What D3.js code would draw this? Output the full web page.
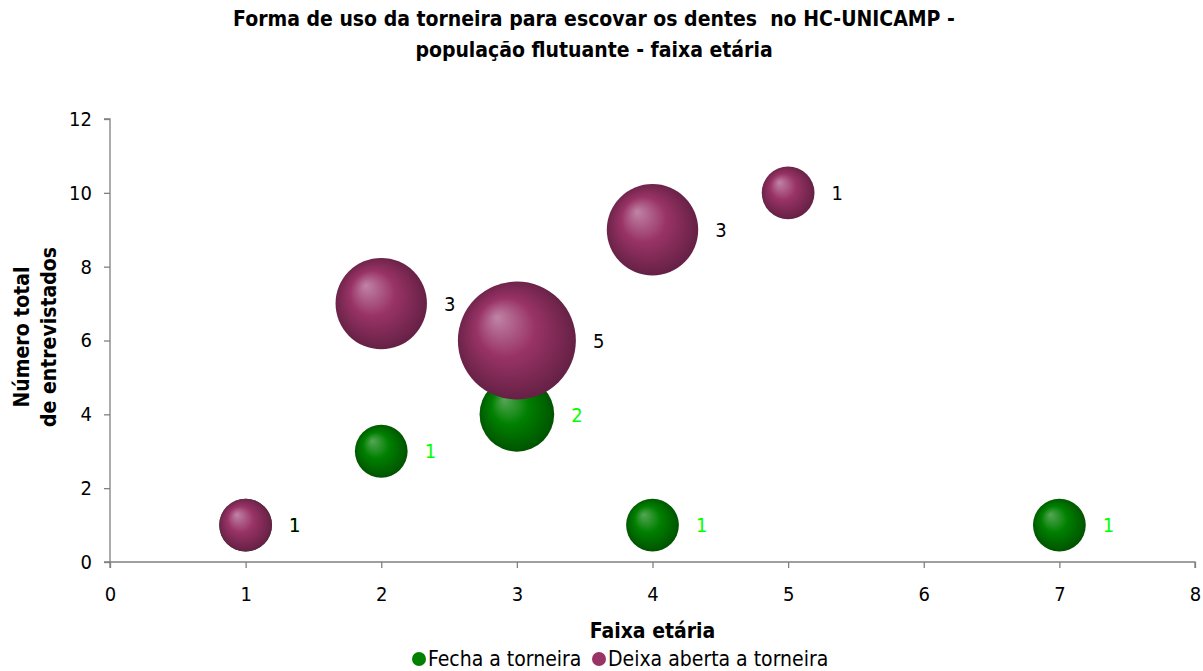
<!DOCTYPE html>
<html>
<head>
<meta charset="utf-8">
<script src="https://cdn.jsdelivr.net/npm/d3@7"></script>
<style>
  html, body { margin: 0; padding: 0; background: #fff; }
  svg { display: block; font-family: "DejaVu Sans Condensed", "DejaVu Sans", Verdana, sans-serif; }
  .pre { white-space: pre; }
</style>
</head>
<body>
<svg id="chart" width="1203" height="671"></svg>
<script>
// ---- data ----
const titleLines = ["Forma de uso da torneira para escovar os dentes  no HC-UNICAMP -", "população flutuante - faixa etária"];
const xTitle = "Faixa etária";
const yTitleLines = ["Número total", "de entrevistados"];
const seriesNames = ["Fecha a torneira", "Deixa aberta a torneira"];
const seriesColors = ["#008000", "#993366"];
const labelColors = ["#00ff00", "#000000"];

const fechaX = [1, 2, 3, 4, 7];
const fechaY = [1, 3, 4, 1, 1];
const fechaSize = [1, 1, 2, 1, 1];

const deixaX = [1, 2, 3, 4, 5];
const deixaY = [1, 7, 6, 9, 10];
const deixaSize = [1, 3, 5, 3, 1];

const xTicks = [0, 1, 2, 3, 4, 5, 6, 7, 8];
const yTicks = [0, 2, 4, 6, 8, 10, 12];

// ---- layout ----
const svg = d3.select("#chart");
const margin = { left: 110, right: 1195, top: 119, bottom: 562 };

const x = d3.scaleLinear().domain([0, 8]).range([margin.left, margin.right]);
const y = d3.scaleLinear().domain([0, 12]).range([margin.bottom, margin.top]);
const r = d3.scaleSqrt().domain([0, 5]).range([0, 59]);

// gradients
const defs = svg.append("defs");
const grads = [
  ["g0", "#56a656", "#008000", "#004d00"],
  ["g1", "#c084a6", "#993366", "#5e1e40"]
];
grads.forEach(([id, c0, c1, c2]) => {
  const g = defs.append("radialGradient").attr("id", id)
    .attr("cx", "50%").attr("cy", "50%").attr("r", "55%")
    .attr("fx", "33%").attr("fy", "30%");
  g.append("stop").attr("offset", "0%").attr("stop-color", c0);
  g.append("stop").attr("offset", "45%").attr("stop-color", c1);
  g.append("stop").attr("offset", "100%").attr("stop-color", c2);
});

// title
svg.append("text").attr("class", "pre")
  .attr("text-anchor", "middle")
  .attr("font-weight", "bold").attr("font-size", 21).attr("fill", "#000")
  .selectAll("tspan").data(titleLines).join("tspan")
  .attr("x", 594).attr("y", (d, i) => 26 + i * 31).text(d => d);

// axes
const axisColor = "#808080";
const yAxis = svg.append("g").attr("transform", `translate(${margin.left},0)`)
  .call(d3.axisLeft(y).tickValues(yTicks).tickSize(6).tickPadding(12).tickFormat(d3.format("d")));
const xAxis = svg.append("g").attr("transform", `translate(0,${margin.bottom})`)
  .call(d3.axisBottom(x).tickValues(xTicks).tickSize(6).tickPadding(19).tickFormat(d3.format("d")));
[yAxis, xAxis].forEach(a => {
  a.attr("font-size", null).attr("font-family", null);
  a.select(".domain").attr("stroke", axisColor).attr("stroke-width", 1.3);
  a.selectAll(".tick line").attr("stroke", axisColor).attr("stroke-width", 1.3);
  a.selectAll(".tick text").attr("fill", "#000").attr("font-size", 20);
});
yAxis.select(".domain").attr("d", `M-6,${margin.bottom}H0V${margin.top}H-6`);
xAxis.select(".domain").attr("d", `M${margin.left},6V0H${margin.right}V6`);

// axis titles
svg.append("text").attr("x", (margin.left + margin.right) / 2).attr("y", 638)
  .attr("text-anchor", "middle").attr("font-weight", "bold").attr("font-size", 21)
  .text(xTitle);
const yt = svg.append("text").attr("transform", "translate(0,337) rotate(-90)")
  .attr("text-anchor", "middle").attr("font-weight", "bold").attr("font-size", 21);
yt.selectAll("tspan").data(yTitleLines).join("tspan")
  .attr("x", 0).attr("y", (d, i) => 29 + i * 27).text(d => d);

// bubbles
const series = [
  fechaX.map((v, i) => ({ x: v, y: fechaY[i], s: fechaSize[i], k: 0 })),
  deixaX.map((v, i) => ({ x: v, y: deixaY[i], s: deixaSize[i], k: 1 }))
];
series.forEach((pts, k) => {
  svg.append("g").selectAll("circle").data(pts).join("circle")
    .attr("cx", d => x(d.x)).attr("cy", d => y(d.y)).attr("r", d => r(d.s))
    .attr("fill", `url(#g${k})`);
});
series.forEach((pts, k) => {
  svg.append("g").selectAll("text").data(pts).join("text")
    .attr("x", d => x(d.x) + r(d.s) + 17).attr("y", d => y(d.y))
    .attr("dy", "0.36em").attr("font-size", 20).attr("fill", labelColors[k])
    .text(d => d.s);
});

// legend
const legend = svg.append("g").attr("transform", "translate(0,658)");
const items = [{ name: seriesNames[0], c: seriesColors[0], x: 419 }, { name: seriesNames[1], c: seriesColors[1], x: 599 }];
items.forEach(it => {
  legend.append("circle").attr("cx", it.x).attr("cy", 1).attr("r", 7).attr("fill", it.c);
  legend.append("text").attr("x", it.x + 9).attr("y", 0).attr("dy", "0.36em")
    .attr("font-size", 21).text(it.name);
});
</script>
</body>
</html>
